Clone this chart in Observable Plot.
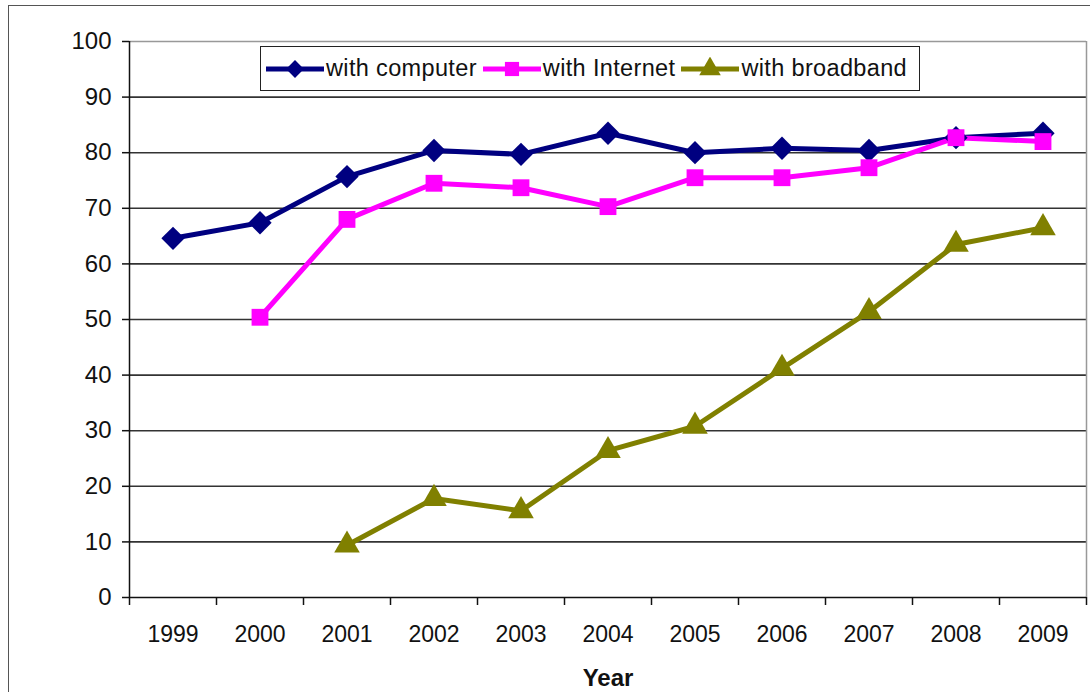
<!DOCTYPE html>
<html>
<head>
<meta charset="utf-8">
<script src="https://cdn.jsdelivr.net/npm/d3@7"></script>
<script src="https://cdn.jsdelivr.net/npm/@observablehq/plot@0.6"></script>
<style>
  body { margin: 0; background: #fff; font-family: "Liberation Sans", Arial, sans-serif; }
  #wrap { position: relative; width: 1090px; height: 692px; overflow: hidden; }
  #frame { position: absolute; left: 8px; top: 5px; width: 1200px; height: 800px; border-left: 1.5px solid #555; border-top: 1.5px solid #555; pointer-events: none; }
  #legend { position: absolute; left: 260px; top: 46px; width: 660px; height: 45px; border: 1.5px solid #222; background: #fff;
    display: flex; align-items: center; font-size: 23.5px; letter-spacing: 0.35px; color: #111; box-sizing: border-box; padding-left: 5px;
    white-space: nowrap; overflow: hidden; }
  #legend .item { display: flex; align-items: center; margin-right: 6px; flex-shrink: 0; }
  #legend svg { margin-right: 2px; flex-shrink: 0; }
</style>
</head>
<body>
<div id="wrap">
  <div id="chart"></div>
  <div id="legend"></div>
  <div id="frame"></div>
</div>
<script>
const years = [1999, 2000, 2001, 2002, 2003, 2004, 2005, 2006, 2007, 2008, 2009];
const withComputer = [64.6, 67.4, 75.7, 80.4, 79.7, 83.5, 80.0, 80.8, 80.4, 82.7, 83.5];
const withInternet = [null, 50.4, 68.0, 74.5, 73.7, 70.3, 75.5, 75.5, 77.3, 82.7, 82.0];
const withBroadband = [null, null, 9.4, 17.8, 15.6, 26.4, 30.8, 41.2, 51.4, 63.5, 66.5];
const seriesNames = ["with computer", "with Internet", "with broadband"];
const seriesColors = ["#000080", "#FF00FF", "#808000"];
const seriesSymbols = ["diamond2", "square", "triangle"];
const yTicks = [0, 10, 20, 30, 40, 50, 60, 70, 80, 90, 100];

const seriesValues = [withComputer, withInternet, withBroadband];
const rows = [];
seriesNames.forEach((name, i) => {
  years.forEach((yr, j) => {
    const v = seriesValues[i][j];
    if (v != null) rows.push({year: yr, value: v, series: name});
  });
});
const boundaries = years.map(y => y - 0.5).concat([years[years.length - 1] + 0.5]);

const chart = Plot.plot({
  width: 1090,
  height: 692,
  marginLeft: 129,
  marginRight: 4,
  marginTop: 41,
  marginBottom: 95,
  style: {fontFamily: "Liberation Sans, Arial, sans-serif", background: "transparent"},
  x: {domain: [years[0] - 0.5, years[years.length - 1] + 0.5]},
  y: {domain: [0, 100]},
  color: {domain: seriesNames, range: seriesColors},
  symbol: {domain: seriesNames, range: seriesSymbols},
  marks: [
    Plot.ruleY(yTicks.filter(d => d > 0), {stroke: d => d === 100 ? "#999" : "#333", strokeWidth: 1.6}),
    Plot.ruleX([years[years.length - 1] + 0.5], {stroke: "#999", strokeWidth: 1.5}),
    Plot.axisY(yTicks, {tickSize: 7, tickPadding: 11, fontSize: 24, stroke: "#111", fill: "#111", strokeWidth: 1.5, label: null}),
    Plot.axisX(boundaries, {tickSize: 8, tickFormat: () => "", stroke: "#111", strokeWidth: 1.5, label: null}),
    Plot.axisX(years, {tickSize: 0, tickPadding: 28, fontSize: 23, fill: "#111", tickFormat: d => String(d), label: null}),
    Plot.axisX({label: "Year", labelAnchor: "center", labelArrow: "none", ticks: [], labelOffset: 88, fontSize: 24, fontWeight: "bold", fill: "#111"}),
    Plot.ruleX([years[0] - 0.5], {stroke: "#111", strokeWidth: 1.5}),
    Plot.ruleY([0], {stroke: "#111", strokeWidth: 1.5}),
    Plot.line(rows, {x: "year", y: "value", z: "series", stroke: "series", strokeWidth: 5, strokeLinejoin: "round"}),
    Plot.dot(rows.filter(d => d.series === seriesNames[0]), {x: "year", y: "value", symbol: "series", fill: "series", r: 10.5}),
    Plot.dot(rows.filter(d => d.series !== seriesNames[0]), {x: "year", y: "value", symbol: "series", fill: "series", r: 9.5})
  ]
});
document.getElementById("chart").appendChild(chart);

// Legend
const legend = document.getElementById("legend");
seriesNames.forEach((name, i) => {
  const item = document.createElement("div");
  item.className = "item";
  const sw = d3.create("svg").attr("width", 58).attr("height", 24);
  sw.append("line").attr("x1", 0).attr("x2", 58).attr("y1", 12).attr("y2", 12)
    .attr("stroke", seriesColors[i]).attr("stroke-width", 5);
  const symType = [d3.symbolDiamond2, d3.symbolSquare, d3.symbolTriangle][i];
  sw.append("path").attr("d", d3.symbol(symType, 8 * 8 * Math.PI)())
    .attr("transform", "translate(29,12)").attr("fill", seriesColors[i]);
  item.appendChild(sw.node());
  const t = document.createElement("span");
  t.textContent = name;
  item.appendChild(t);
  legend.appendChild(item);
});
</script>
</body>
</html>
